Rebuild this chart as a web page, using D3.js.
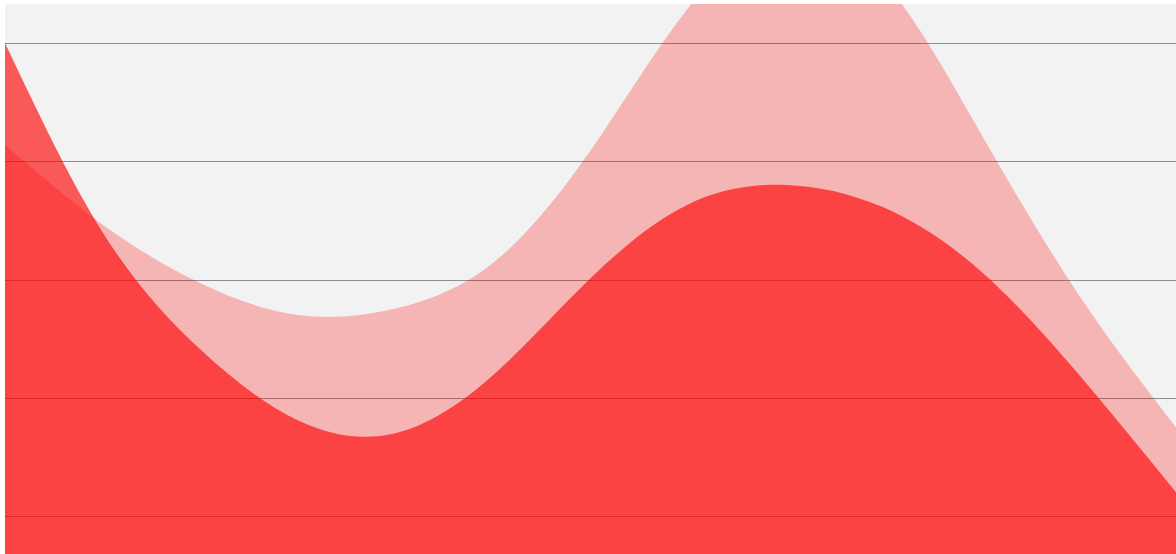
<!DOCTYPE html>
<html>
<head>
<meta charset="utf-8">
<script src="https://cdn.jsdelivr.net/npm/d3@7"></script>
<style>
  body { margin: 0; background: #fff; }
  svg { display: block; }
</style>
</head>
<body>
<svg></svg>
<script>
// chart data

var points = [0, 1, 2, 3, 4, 5, 6, 7, 8, 9, 10, 11, 12];
var backSeries = [41.4, 34.65, 29.7, 27.0, 27.55, 31.4, 40.9, 52.95, 59.45, 55.3, 42.35, 28.75, 17.5];
var frontSeries = [50.0, 34.0, 24.1, 18.1, 17.0, 21.9, 30.1, 36.35, 38.0, 36.1, 30.7, 22.0, 12.0];
var gridTicks = [10, 20, 30, 40, 50];

var width = 1176,
	height = 554,
	padLeft = 5,
	padTop = 4; // note: "top" is taken by window.top

var xScale = d3.scaleLinear()
				.domain(d3.extent(points))
				.range([padLeft, width]);

var yScale = d3.scaleLinear() // 50 sits on the top grid line, 10 on the bottom one
				.domain([10, 50])
				.range([516, 43]);

var svg = d3.select('svg')
			.attr('width', width)
			.attr('height', height);

svg.append('clipPath')
	.attr('id', 'plot')
	.append('rect')
		.attr('x', padLeft)
		.attr('y', padTop)
		.attr('width', width - padLeft)
		.attr('height', height - padTop);

svg.append('rect')
	.attr('x', padLeft)
	.attr('y', padTop)
	.attr('width', width - padLeft)
	.attr('height', height - padTop)
	.attr('fill', '#f2f2f2');

svg.append('g')
	.selectAll('line')
	.data(gridTicks)
	.enter()
	.append('line')
		.attr('x1', padLeft)
		.attr('x2', width)
		.attr('y1', d => Math.round(yScale(d)) + 0.5)
		.attr('y2', d => Math.round(yScale(d)) + 0.5)
		.attr('stroke', '#8e8e8e')
		.attr('stroke-width', 1.2);

var area = function(values) {
	return d3.area()
		.x((d, i) => xScale(points[i]))
		.y0(yScale(0))
		.y1(d => yScale(d))
		.curve(d3.curveNatural)(values);
};

var plot = svg.append('g')
	.attr('clip-path', 'url(#plot)');

plot.append('path')
	.attr('d', area(backSeries))
	.attr('fill', 'rgb(255,0,0)')
	.attr('fill-opacity', 0.25);

plot.append('path')
	.attr('d', area(frontSeries))
	.attr('fill', 'rgb(255,0,0)')
	.attr('fill-opacity', 0.63);
</script>
</body>
</html>
